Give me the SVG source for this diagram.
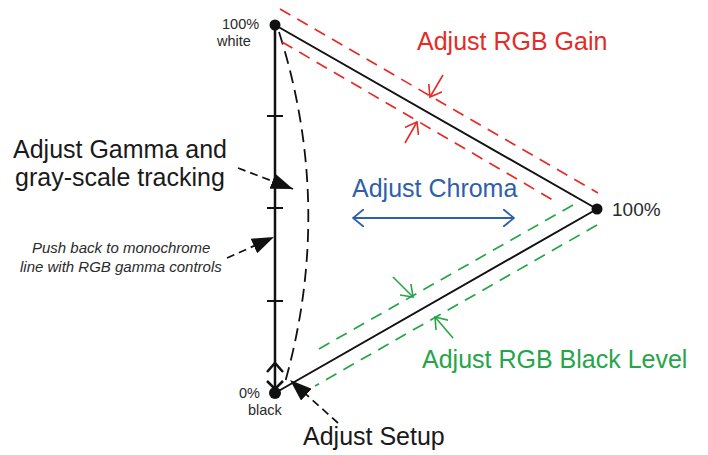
<svg xmlns="http://www.w3.org/2000/svg" width="708" height="455" viewBox="0 0 708 455">
<style>
text{font-family:"Liberation Sans",Arial,sans-serif;}
.lbl{fill:#2a2a2a;font-size:14.5px;}
.big{fill:#1a1a1a;font-size:25px;}
.red{fill:#e52b27;font-size:25px;}
.green{fill:#25a548;font-size:25px;}
.blue{fill:#2e5fab;font-size:25px;}
.it{fill:#2a2a2a;font-size:15px;font-style:italic;}
.solid{stroke:#111;stroke-width:2;fill:none;}
.rdash{stroke:#e52b27;stroke-width:1.7;stroke-dasharray:12 8;fill:none;}
.gdash{stroke:#25a548;stroke-width:1.7;stroke-dasharray:12 8;fill:none;}
.kdash{stroke:#111;stroke-width:1.8;stroke-dasharray:13 7;fill:none;}
.adash{stroke:#111;stroke-width:1.7;stroke-dasharray:8 5;fill:none;}
.rarr{stroke:#e52b27;stroke-width:1.6;fill:none;}
.garr{stroke:#25a548;stroke-width:1.6;fill:none;}
.barr{stroke:#2e5fab;stroke-width:1.8;fill:none;}
.tick{stroke:#111;stroke-width:2;}
</style>
<defs>
<marker id="openR" markerUnits="userSpaceOnUse" viewBox="0 0 12 16" refX="11" refY="8" markerWidth="12" markerHeight="16" orient="auto"><path d="M0,0 L11,8 L0,16" fill="none" stroke="#e52b27" stroke-width="1.6"/></marker>
<marker id="openG" markerUnits="userSpaceOnUse" viewBox="0 0 12 16" refX="11" refY="8" markerWidth="12" markerHeight="16" orient="auto"><path d="M0,0 L11,8 L0,16" fill="none" stroke="#25a548" stroke-width="1.6"/></marker>
<marker id="openB" markerUnits="userSpaceOnUse" viewBox="0 0 12 18" refX="11" refY="9" markerWidth="12" markerHeight="18" orient="auto-start-reverse"><path d="M0,0 L11,9 L0,18" fill="none" stroke="#2e5fab" stroke-width="1.8"/></marker>
<marker id="fillK" markerUnits="userSpaceOnUse" viewBox="0 0 22 16" refX="22" refY="8" markerWidth="22" markerHeight="16" orient="auto"><path d="M0,0 L22,8 L0,16 z" fill="#111"/></marker>
</defs>

<g id="connectors">
  <line class="solid" x1="275" y1="25" x2="275" y2="393" style="stroke-width:2.5"/>
  <line class="tick" x1="267" y1="116" x2="283" y2="116"/>
  <line class="tick" x1="267" y1="208" x2="283" y2="208"/>
  <line class="tick" x1="267" y1="301" x2="283" y2="301"/>
  <path d="M267,372 L275,363 L283,372" class="solid" style="stroke-width:2.5"/>
  <path d="M267,381 L275,389 L283,381" class="solid" style="stroke-width:2.5"/>
  <line class="solid" x1="275" y1="25" x2="597" y2="209"/>
  <line class="solid" x1="275" y1="393" x2="597" y2="209"/>
  <path class="kdash" d="M279,32 Q335,208 284,386"/>
  <line class="rdash" x1="280" y1="9" x2="598" y2="193"/>
  <line class="rdash" x1="282" y1="42" x2="558" y2="203"/>
  <line class="gdash" x1="573" y1="205" x2="317" y2="350"/>
  <line class="gdash" x1="597" y1="225" x2="315" y2="386"/>
  <line class="rarr" x1="443" y1="75" x2="430" y2="97" marker-end="url(#openR)"/>
  <line class="rarr" x1="405" y1="143" x2="417" y2="122" marker-end="url(#openR)"/>
  <line class="garr" x1="393" y1="277" x2="413" y2="297" marker-end="url(#openG)"/>
  <line class="garr" x1="453" y1="338" x2="435" y2="317" marker-end="url(#openG)"/>
  <line class="barr" x1="353" y1="218" x2="514" y2="218" marker-start="url(#openB)" marker-end="url(#openB)"/>
  <line class="adash" x1="238" y1="168" x2="293" y2="189" marker-end="url(#fillK)"/>
  <line class="adash" x1="227" y1="258" x2="274" y2="237" marker-end="url(#fillK)"/>
  <line class="adash" x1="338" y1="423" x2="290" y2="380" marker-end="url(#fillK)"/>
</g>

<g id="white">
  <circle cx="275" cy="25" r="5.5" fill="#111"/>
  <text class="lbl" x="222" y="29">100%</text>
  <text class="lbl" x="217" y="46">white</text>
</g>
<g id="full">
  <circle cx="597" cy="209" r="5.5" fill="#111"/>
  <text class="lbl" x="612" y="216" style="font-size:19px">100%</text>
</g>
<g id="black">
  <circle cx="275" cy="393" r="6" fill="#111"/>
  <text class="lbl" x="239" y="398">0%</text>
  <text class="lbl" x="248" y="415">black</text>
</g>
<g id="gain"><text class="red" x="417" y="50">Adjust RGB Gain</text></g>
<g id="chroma"><text class="blue" x="352" y="197">Adjust Chroma</text></g>
<g id="gamma">
  <text class="big" x="13" y="158">Adjust Gamma and</text>
  <text class="big" x="15" y="186">gray-scale tracking</text>
</g>
<g id="push">
  <text class="it" x="32" y="253">Push back to monochrome</text>
  <text class="it" x="20" y="272">line with RGB gamma controls</text>
</g>
<g id="setup"><text class="big" x="303" y="445">Adjust Setup</text></g>
<g id="blacklevel"><text class="green" x="422" y="368">Adjust RGB Black Level</text></g>
</svg>
